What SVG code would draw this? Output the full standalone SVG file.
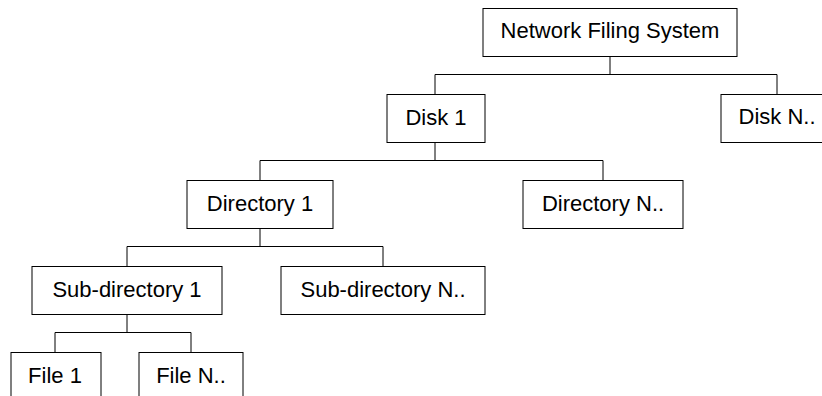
<svg xmlns="http://www.w3.org/2000/svg" width="822" height="396" viewBox="0 0 822 396">
<style>
.box{fill:#fff;stroke:#000;stroke-width:1}
.lbl{font-family:"Liberation Sans",Arial,sans-serif;font-size:22px;fill:#000;text-anchor:middle}
.con{fill:none;stroke:#000;stroke-width:1}
</style>
<rect width="822" height="396" fill="#fff"/>
<g id="connectors">
<path class="con" d="M610 56.5V74.5M435 74.5H777M435 74.5V94.5M777 74.5V94.5"/>
<path class="con" d="M435 142.5V160.5M260 160.5H603M260 160.5V180.5M603 160.5V180.5"/>
<path class="con" d="M260 228.5V246.5M127 246.5H383M127 246.5V266.5M383 246.5V266.5"/>
<path class="con" d="M127 314.5V332.5M55 332.5H191M55 332.5V352.5M191 332.5V352.5"/>
</g>
<g id="nfs"><rect class="box" x="483" y="8.5" width="254" height="48"/><text class="lbl" x="610" y="38">Network Filing System</text></g>
<g id="disk1"><rect class="box" x="387" y="94.5" width="98" height="48"/><text class="lbl" x="436" y="124.5">Disk 1</text></g>
<g id="diskN"><rect class="box" x="721" y="94.5" width="112" height="48"/><text class="lbl" x="777" y="124">Disk N..</text></g>
<g id="dir1"><rect class="box" x="187" y="180.5" width="146" height="48"/><text class="lbl" x="260" y="211">Directory 1</text></g>
<g id="dirN"><rect class="box" x="523" y="180.5" width="160" height="48"/><text class="lbl" x="603" y="211">Directory N..</text></g>
<g id="sub1"><rect class="box" x="32" y="266.5" width="190" height="48"/><text class="lbl" x="127" y="297">Sub-directory 1</text></g>
<g id="subN"><rect class="box" x="281" y="266.5" width="204" height="48"/><text class="lbl" x="383" y="297">Sub-directory N..</text></g>
<g id="file1"><rect class="box" x="11" y="352.5" width="90" height="48"/><text class="lbl" x="55" y="383">File 1</text></g>
<g id="fileN"><rect class="box" x="139" y="352.5" width="104" height="48"/><text class="lbl" x="191" y="383">File N..</text></g>
</svg>
